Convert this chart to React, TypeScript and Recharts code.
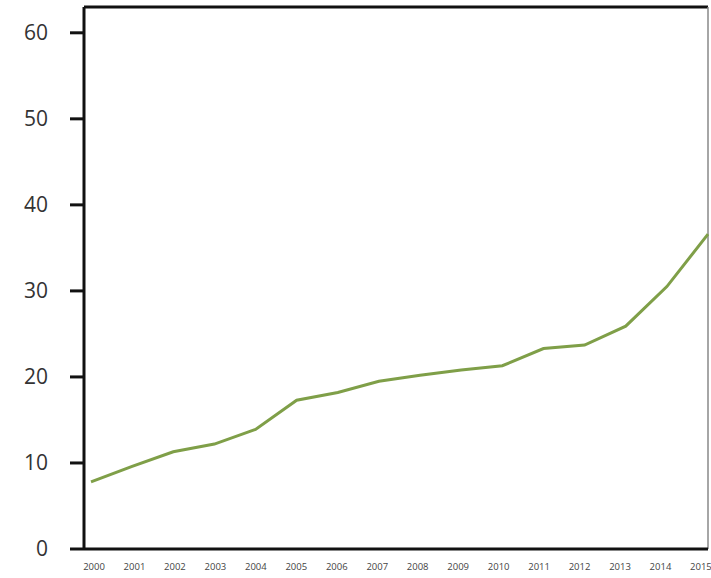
import React from 'react';
import { LineChart, Line, XAxis, YAxis, ReferenceLine } from 'recharts';

// years along the bottom
const years = ['2000', '2001', '2002', '2003', '2004', '2005', '2006', '2007', '2008', '2009', '2010', '2011', '2012', '2013', '2014', '2015'];
// values
const values = [7.8, 9.6, 11.3, 12.2, 13.9, 17.3, 18.2, 19.5, 20.2, 20.8, 21.3, 23.3, 23.7, 25.9, 30.5, 36.6];
const yTicks = [0, 10, 20, 30, 40, 50, 60];

const data = years.map((year, i) => ({ year, value: values[i] }));

// small year labels, nudged so the last one stays inside the frame
const YearTick = (props: any) => {
  const { x, y, payload, index } = props;
  return (
    <text
      x={x + 3 - index * 0.67}
      y={y}
      dy="0.71em"
      textAnchor="middle"
      fontSize={9.5}
      fontFamily="'Open Sans', sans-serif"
      fill="#444"
    >
      {payload.value}
    </text>
  );
};

const App: React.FC = () => {
  return (
    <div style={{ position: 'absolute', left: 0, top: 0, background: '#fff' }}>
      <LineChart width={711} height={578} data={data} margin={{ top: 7, right: 3, left: 0, bottom: 0 }}>
        <XAxis
          dataKey="year"
          height={29}
          padding={{ left: 7, right: 0 }}
          axisLine={{ stroke: '#111', strokeWidth: 3 }}
          tickLine={false}
          tickSize={6}
          tickMargin={8}
          tick={<YearTick />}
          interval={0}
        />
        <YAxis
          width={84}
          domain={[0, 63]}
          ticks={yTicks}
          allowDataOverflow
          axisLine={{ stroke: '#111', strokeWidth: 3 }}
          tickLine={{ stroke: '#111', strokeWidth: 3 }}
          tickSize={14}
          tickMargin={22}
          tick={{ fontSize: 21, fill: '#333', fontFamily: "'Open Sans', sans-serif" }}
        />
        {/* frame: top edge and thin right edge */}
        <ReferenceLine y={63} stroke="#111" strokeWidth={3} />
        <ReferenceLine x="2015" stroke="#888" strokeWidth={1.5} />
        <Line
          type="linear"
          dataKey="value"
          stroke="#7f9f48"
          strokeWidth={3}
          dot={false}
          isAnimationActive={false}
        />
      </LineChart>
    </div>
  );
};

export default App;
